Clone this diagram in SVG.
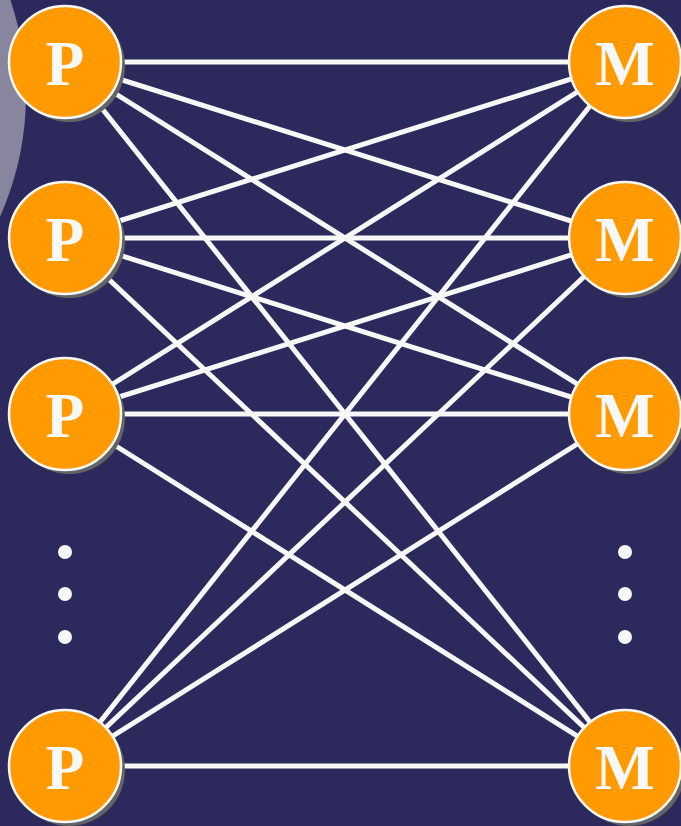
<svg xmlns="http://www.w3.org/2000/svg" width="681" height="826" viewBox="0 0 681 826">
  <style>
    .bg { fill: #2c2a5c; }
    .halo { fill: #87869e; }
    .link { stroke: #f8f8f8; stroke-width: 5; fill: none; }
    .shadow { fill: #646464; }
    .disc { fill: #ff9a00; stroke: #f8f8f8; stroke-width: 2.5; }
    .lbl { font-family: "Liberation Serif", "Times New Roman", serif; font-weight: bold; font-size: 63px; fill: #f8f8f8; text-anchor: middle; }
    .dot { fill: #f8f8f8; }
  </style>
  <defs>
    <g id="node">
      <circle class="shadow" cx="4" cy="4" r="56"/>
      <circle class="disc" cx="0" cy="0" r="56"/>
    </g>
  </defs>

  <rect class="bg" x="0" y="0" width="681" height="826"/>
  <circle class="halo" cx="-271" cy="95" r="297"/>

  <!-- every processor linked to every memory -->
  <g id="connectors">
    <line class="link" x1="65" y1="62" x2="625" y2="62"/>
    <line class="link" x1="65" y1="62" x2="625" y2="238"/>
    <line class="link" x1="65" y1="62" x2="625" y2="414"/>
    <line class="link" x1="65" y1="62" x2="625" y2="766"/>
    <line class="link" x1="65" y1="238" x2="625" y2="62"/>
    <line class="link" x1="65" y1="238" x2="625" y2="238"/>
    <line class="link" x1="65" y1="238" x2="625" y2="414"/>
    <line class="link" x1="65" y1="238" x2="625" y2="766"/>
    <line class="link" x1="65" y1="414" x2="625" y2="62"/>
    <line class="link" x1="65" y1="414" x2="625" y2="238"/>
    <line class="link" x1="65" y1="414" x2="625" y2="414"/>
    <line class="link" x1="65" y1="414" x2="625" y2="766"/>
    <line class="link" x1="65" y1="766" x2="625" y2="62"/>
    <line class="link" x1="65" y1="766" x2="625" y2="238"/>
    <line class="link" x1="65" y1="766" x2="625" y2="414"/>
    <line class="link" x1="65" y1="766" x2="625" y2="766"/>
  </g>

  <g id="p1"><use href="#node" x="65" y="62"/><text class="lbl" x="65" y="85">P</text></g>
  <g id="p2"><use href="#node" x="65" y="238"/><text class="lbl" x="65" y="261">P</text></g>
  <g id="p3"><use href="#node" x="65" y="414"/><text class="lbl" x="65" y="437">P</text></g>
  <g id="p4"><use href="#node" x="65" y="766"/><text class="lbl" x="65" y="789">P</text></g>

  <g id="m1"><use href="#node" x="625" y="62"/><text class="lbl" x="625" y="85">M</text></g>
  <g id="m2"><use href="#node" x="625" y="238"/><text class="lbl" x="625" y="261">M</text></g>
  <g id="m3"><use href="#node" x="625" y="414"/><text class="lbl" x="625" y="437">M</text></g>
  <g id="m4"><use href="#node" x="625" y="766"/><text class="lbl" x="625" y="789">M</text></g>

  <g id="ellipsis-left">
    <circle class="dot" cx="65" cy="552" r="7"/>
    <circle class="dot" cx="65" cy="594" r="7"/>
    <circle class="dot" cx="65" cy="637" r="7"/>
  </g>
  <g id="ellipsis-right">
    <circle class="dot" cx="625" cy="552" r="7"/>
    <circle class="dot" cx="625" cy="594" r="7"/>
    <circle class="dot" cx="625" cy="637" r="7"/>
  </g>
</svg>
